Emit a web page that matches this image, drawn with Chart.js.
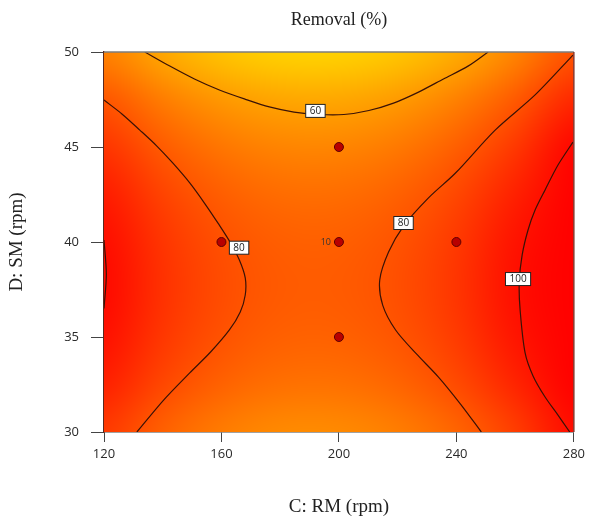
<!DOCTYPE html>
<html><head><meta charset="utf-8">
<script src="https://cdn.jsdelivr.net/npm/chart.js@4"></script>
<style>html,body{margin:0;padding:0;background:#fff}</style>
</head><body>
<canvas id="c" width="589" height="520"></canvas>
<script>
// ---- data ----
const xTicks = [120, 160, 200, 240, 280];          // C: RM (rpm)
const yTicks = [30, 35, 40, 45, 50];               // D: SM (rpm)
const gridC = [120, 140, 160, 180, 200, 220, 240, 260, 280];
const gridD = [50, 47.5, 45, 42.5, 40, 37.5, 35, 32.5, 30]; // top row first
const removal = [
  [67.6, 56.3, 48.8, 44.9, 44.7, 48.1, 55.2, 66.0, 80.5],
  [79.9, 68.6, 61.1, 57.2, 57.0, 60.4, 67.5, 78.3, 92.8],
  [89.3, 78.0, 70.5, 66.6, 66.4, 69.8, 76.9, 87.7, 102.2],
  [96.0, 84.7, 77.2, 73.3, 73.1, 76.5, 83.6, 94.4, 108.9],
  [99.9, 88.6, 81.1, 77.2, 77.0, 80.4, 87.5, 98.3, 112.8],
  [101.0, 89.7, 82.2, 78.3, 78.1, 81.5, 88.6, 99.4, 113.9],
  [99.3, 88.0, 80.5, 76.6, 76.4, 79.8, 86.9, 97.7, 112.2],
  [94.8, 83.5, 76.0, 72.1, 71.9, 75.3, 82.4, 93.2, 107.7],
  [87.5, 76.2, 68.7, 64.8, 64.6, 68.0, 75.1, 85.9, 100.4]
];
const contour60 = [[133.9,50],[142.4,49.26],[150.8,48.58],[159.3,48.0],[167.8,47.53],[176.3,47.11],[184.7,46.84],
  [193.2,46.71],[201.7,46.71],[210.2,46.92],[218.6,47.31],[227.1,47.89],[235.6,48.58],[244.1,49.27],[250.8,50]];
const contour80L = [[120,47.47],[126.1,46.74],[132.2,45.89],[138.0,45.05],[143.4,44.16],[149.2,43.11],[154.2,42.05],
  [159.0,40.95],[163.1,39.95],[166.1,39.05],[168.1,38.11],[168.1,37.21],[166.4,36.32],[162.7,35.37],[156.3,34.21],
  [149.2,33.11],[140.3,31.68],[131.2,30]];
const contour80R = [[279.7,49.84],[266.8,47.74],[253.2,45.89],[239.7,43.63],[230.5,42.32],[222.0,40.84],[216.9,39.47],
  [213.9,38.0],[214.9,36.68],[219.3,35.37],[226.4,34.11],[233.9,32.89],[241.4,31.47],[248.5,30]];
const contour100R = [[279.7,45.26],[274.6,44.05],[270.2,42.74],[266.8,41.68],[264.4,40.63],[262.4,39.32],[261.4,37.89],
  [261.7,36.42],[263.4,34.16],[266.1,32.95],[270.2,31.84],[274.6,30.89],[278.6,30]];
const contour100L = [[120,40.1],[120.8,38.3],[120,36.5]];
const labelText = ['60', '80', '80', '100'];
const labelC = [192, 166, 222, 261];
const labelD = [46.9, 39.7, 41.0, 38.05];
const designC = [160, 200, 200, 200, 240];
const designD = [40, 40, 45, 35, 40];
const centerCount = '10';

// ---- rendering ----
function colorFor(v) {
  const g = Math.max(0, Math.min(220, 210 - 3.6 * (v - 45)));
  return [255, Math.round(g), 0];
}
const toPts = arr => arr.map(p => ({x: p[0], y: p[1]}));

const heatmap = {
  id: 'heatmap',
  beforeDatasetsDraw(chart) {
    const {ctx, chartArea: a, scales: {x, y}} = chart;
    const off = document.createElement('canvas');
    off.width = gridC.length; off.height = gridD.length;
    const octx = off.getContext('2d');
    const img = octx.createImageData(off.width, off.height);
    removal.forEach((row, r) => row.forEach((v, c) => {
      const [R, G, B] = colorFor(v);
      const i = (r * off.width + c) * 4;
      img.data[i] = R; img.data[i+1] = G; img.data[i+2] = B; img.data[i+3] = 255;
    }));
    octx.putImageData(img, 0, 0);
    const hc = (gridC[1] - gridC[0]) / 2, hd = (gridD[0] - gridD[1]) / 2;
    const x0 = x.getPixelForValue(gridC[0] - hc), x1 = x.getPixelForValue(gridC[gridC.length-1] + hc);
    const y0 = y.getPixelForValue(gridD[0] + hd), y1 = y.getPixelForValue(gridD[gridD.length-1] - hd);
    ctx.save();
    ctx.beginPath(); ctx.rect(a.left, a.top, a.right - a.left, a.bottom - a.top); ctx.clip();
    ctx.imageSmoothingEnabled = true;
    ctx.imageSmoothingQuality = 'high';
    ctx.drawImage(off, x0, y0, x1 - x0, y1 - y0);
    ctx.restore();
  },
  afterDatasetsDraw(chart) {
    const {ctx, chartArea: a, scales: {x, y}} = chart;
    ctx.save();
    ctx.lineWidth = 1.5;
    ctx.strokeStyle = '#7d7d7d';
    ctx.beginPath(); ctx.moveTo(a.left, a.top); ctx.lineTo(a.right, a.top); ctx.stroke();
    ctx.strokeStyle = '#8a3a30';
    ctx.beginPath(); ctx.moveTo(a.right, a.top); ctx.lineTo(a.right, a.bottom); ctx.stroke();
    ctx.font = '10px "Open Sans"';
    ctx.textAlign = 'center'; ctx.textBaseline = 'middle';
    labelText.forEach((t, i) => {
      const px = x.getPixelForValue(labelC[i]), py = y.getPixelForValue(labelD[i]);
      const w = ctx.measureText(t).width + 8, h = 13;
      ctx.fillStyle = '#fff'; ctx.fillRect(px - w/2, py - h/2, w, h);
      ctx.strokeStyle = '#222'; ctx.lineWidth = 1; ctx.strokeRect(px - w/2, py - h/2, w, h);
      ctx.fillStyle = '#222'; ctx.fillText(t, px, py + 0.5);
    });
    ctx.font = '9px "Open Sans"';
    ctx.fillStyle = '#333'; ctx.textAlign = 'right';
    ctx.fillText(centerCount, x.getPixelForValue(200) - 8, y.getPixelForValue(40) + 0.5);
    ctx.restore();
  }
};

const lineDs = (pts) => ({
  data: toPts(pts), showLine: true, borderColor: '#3a1206', borderWidth: 1.2,
  pointRadius: 0, pointHoverRadius: 0, tension: 0.3, fill: false, order: 2
});

new Chart(document.getElementById('c'), {
  type: 'scatter',
  data: {
    datasets: [
      lineDs(contour60), lineDs(contour80L), lineDs(contour80R), lineDs(contour100R), lineDs(contour100L),
      {
        data: designC.map((c, i) => ({x: c, y: designD[i]})),
        pointRadius: 4.5, backgroundColor: '#b80000', borderColor: '#600000', borderWidth: 1,
        showLine: false, order: 1
      }
    ]
  },
  options: {
    responsive: false, animation: false, devicePixelRatio: 1,
    layout: {padding: {top: 0, right: 13, left: 0, bottom: 0}},
    plugins: {
      legend: {display: false}, tooltip: {enabled: false},
      title: {display: true, text: 'Removal (%)', fullSize: false, color: '#222',
        font: {family: '"Liberation Serif"', size: 18, weight: 'normal'}, padding: {top: 9, bottom: 21.4}}
    },
    scales: {
      x: {
        type: 'linear', min: 120, max: 280,
        afterBuildTicks(s) { s.ticks = xTicks.map(v => ({value: v})); },
        afterFit(s) { s.height = 88; },
        ticks: {color: '#2a2a2a', font: {family: '"Open Sans"', size: 13}, padding: 4},
        grid: {drawOnChartArea: false, drawTicks: true, tickLength: 10, color: '#444', lineWidth: 1},
        border: {display: true, color: '#444', width: 1.5},
        title: {display: true, text: 'C: RM (rpm)', color: '#222',
          font: {family: '"Liberation Serif"', size: 19}, padding: {top: 0, bottom: 2}}
      },
      y: {
        type: 'linear', min: 30, max: 50,
        afterBuildTicks(s) { s.ticks = yTicks.map(v => ({value: v})); },
        afterFit(s) { s.width = 104; },
        ticks: {color: '#2a2a2a', font: {family: '"Open Sans"', size: 13}, padding: 12},
        grid: {drawOnChartArea: false, drawTicks: true, tickLength: 13, color: '#444', lineWidth: 1},
        border: {display: true, color: '#5a2a20', width: 1.5},
        title: {display: true, text: 'D: SM (rpm)', color: '#222',
          font: {family: '"Liberation Serif"', size: 19}, padding: {top: 6, bottom: 0}}
      }
    }
  },
  plugins: [heatmap]
});
</script>
</body></html>
